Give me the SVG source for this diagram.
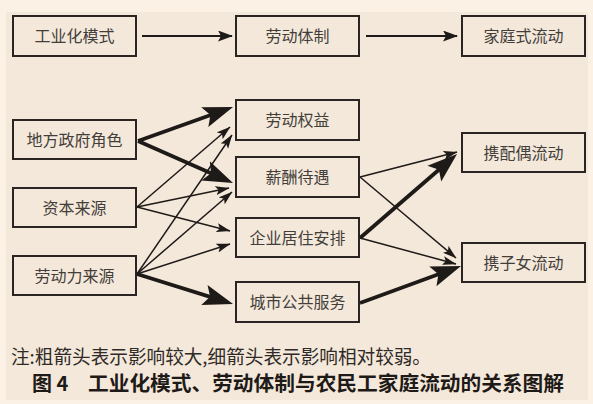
<svg xmlns="http://www.w3.org/2000/svg" width="593" height="404" viewBox="0 0 593 404">
<style>
.box{fill:none;stroke:#2a2522;stroke-width:2}
.lbl{font-family:"Noto Sans CJK SC","Noto Sans",sans-serif;font-size:16px;fill:#433e3a;text-anchor:middle}
.thin{stroke:#1e1a18;stroke-width:1.5;fill:none;marker-end:url(#ah)}
.thick{stroke:#1e1a18;stroke-width:3.8;fill:none;marker-end:url(#AH)}
.top{stroke:#1e1a18;stroke-width:2;fill:none;marker-end:url(#am)}
.note{font-family:"Noto Sans CJK SC","Noto Sans",sans-serif;font-size:19px;fill:#2f2a27}
.cap{font-family:"Noto Sans CJK SC","Noto Sans",sans-serif;font-size:20px;font-weight:bold;fill:#1e1a18}
</style>
<defs>
<marker id="ah" markerUnits="userSpaceOnUse" markerWidth="14" markerHeight="10" viewBox="0 0 14 10" refX="13.5" refY="5" orient="auto"><path d="M0,0.5 L14,5 L0,9.5 L3,5 z" fill="#1e1a18"/></marker>
<marker id="am" markerUnits="userSpaceOnUse" markerWidth="15" markerHeight="11" viewBox="0 0 15 11" refX="14" refY="5.5" orient="auto"><path d="M0,0 L15,5.5 L0,11 L3,5.5 z" fill="#1e1a18"/></marker>
<marker id="AH" markerUnits="userSpaceOnUse" markerWidth="30" markerHeight="22" viewBox="0 0 30 22" refX="22" refY="11" orient="auto"><path d="M0,0.5 L30,11 L0,21.5 L6,11 z" fill="#1e1a18"/></marker>
</defs>
<rect x="0" y="0" width="593" height="404" fill="#fbf1e5"/>
<rect x="6" y="12" width="582" height="388" fill="#f4e8da"/>

<g id="n-gyhms"><rect class="box" x="13" y="16" width="123" height="40"/><text class="lbl" x="74.5" y="42">工业化模式</text></g>
<g id="n-ldtz"><rect class="box" x="236" y="16" width="123" height="40"/><text class="lbl" x="297.5" y="42">劳动体制</text></g>
<g id="n-jtsld"><rect class="box" x="462" y="16" width="123" height="40"/><text class="lbl" x="523.5" y="42">家庭式流动</text></g>

<g id="n-dfzf"><rect class="box" x="13" y="120" width="123" height="39"/><text class="lbl" x="74.5" y="145.5">地方政府角色</text></g>
<g id="n-zbly"><rect class="box" x="13" y="188" width="123" height="39"/><text class="lbl" x="74.5" y="213.5">资本来源</text></g>
<g id="n-ldlly"><rect class="box" x="13" y="256" width="123" height="39"/><text class="lbl" x="74.5" y="281.5">劳动力来源</text></g>

<g id="n-ldqy"><rect class="box" x="236" y="100" width="123" height="40"/><text class="lbl" x="297.5" y="126">劳动权益</text></g>
<g id="n-xcdy"><rect class="box" x="236" y="157" width="123" height="40"/><text class="lbl" x="297.5" y="183">薪酬待遇</text></g>
<g id="n-qyjz"><rect class="box" x="236" y="218" width="123" height="39"/><text class="lbl" x="297.5" y="243.5">企业居住安排</text></g>
<g id="n-csgg"><rect class="box" x="236" y="282" width="123" height="40"/><text class="lbl" x="297.5" y="308">城市公共服务</text></g>

<g id="n-xpold"><rect class="box" x="462" y="133" width="123" height="39"/><text class="lbl" x="523.5" y="158.5">携配偶流动</text></g>
<g id="n-xznld"><rect class="box" x="462" y="243" width="123" height="39"/><text class="lbl" x="523.5" y="268.5">携子女流动</text></g>

<g id="connectors">
<line class="top" x1="142" y1="36" x2="232" y2="36"/>
<line class="top" x1="366" y1="36" x2="457" y2="36"/>

<line class="thick" x1="138" y1="141" x2="225.5" y2="109.7"/>
<line class="thick" x1="138" y1="141" x2="225.7" y2="179.8"/>

<line class="thin" x1="137" y1="207" x2="230" y2="127"/>
<line class="thin" x1="137" y1="207" x2="229" y2="188"/>
<line class="thin" x1="137" y1="207" x2="230" y2="231"/>

<line class="thin" x1="137" y1="274" x2="232" y2="135"/>
<line class="thin" x1="137" y1="274" x2="232" y2="192"/>
<line class="thin" x1="137" y1="274" x2="230" y2="244"/>
<line class="thick" x1="137" y1="274" x2="225.4" y2="301.6"/>

<line class="thin" x1="360" y1="177" x2="457" y2="152"/>
<line class="thin" x1="360" y1="177" x2="456" y2="258"/>
<line class="thick" x1="360" y1="238" x2="451" y2="159.2"/>
<line class="thin" x1="360" y1="238" x2="456" y2="264"/>
<line class="thick" x1="360" y1="303" x2="453.5" y2="268.8"/>
</g>

<text class="note" x="11" y="364" textLength="420" lengthAdjust="spacingAndGlyphs">注:粗箭头表示影响较大,细箭头表示影响相对较弱。</text>
<text class="cap" x="32" y="391">图 4</text>
<text class="cap" x="88" y="391" textLength="476" lengthAdjust="spacingAndGlyphs">工业化模式、劳动体制与农民工家庭流动的关系图解</text>
</svg>
